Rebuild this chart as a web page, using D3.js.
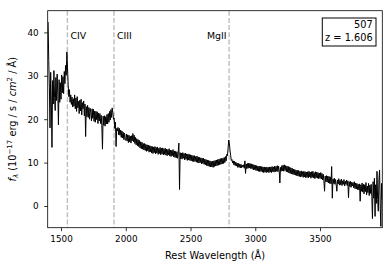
<!doctype html>
<html>
<head>
<meta charset="utf-8">
<script src="https://cdn.jsdelivr.net/npm/d3@7"></script>
<style>
  body { margin: 0; background: #fff; }
  text { font-family: "DejaVu Sans", sans-serif; }
</style>
</head>
<body>
<svg width="392" height="268"></svg>
<script>
// rest-frame wavelength grid of the spectrum (Angstrom)
var waveStart = 1400, waveStep = 5;

// flux, 1e-17 erg/s/cm2/A, one row = 100 A
var flux = [
  42.4,33.5,27.2,18.0,30.8,24.1,13.5,28.9,23.5,31.2,25.0,22.0,29.6,24.3,30.4,25.8,18.7,29.1,23.9,28.4, // 1400
  24.6,30.2,26.1,29.8,25.9,31.0,28.2,32.4,30.1,35.5,31.8,28.0,25.2,26.8,23.9,25.6,23.4,25.1,22.8,24.7, // 1500
  23.0,25.6,22.4,24.9,21.8,25.2,22.6,24.1,21.3,24.4,21.9,24.6,21.0,23.8,22.4,24.2,20.8,23.5,16.0,22.9, // 1600
  20.6,23.2,20.4,22.7,20.0,22.5,21.6,19.6,22.4,20.2,22.3,19.5,21.9,19.3,21.8,19.9,21.7,19.0,21.4,19.6, // 1700
  21.3,19.0,20.9,18.6,13.1,20.7,18.6,20.8,18.4,20.6,18.9,21.1,18.9,21.3,19.3,21.8,19.8,22.2,20.4,22.6, // 1800
  21.5,20.0,20.3,17.9,19.3,13.7,17.9,17.3,18.1,16.4,17.9,16.3,17.5,15.8,17.3,15.7,17.0,15.3,16.8,15.3, // 1900
  15.1,16.6,15.0,16.4,14.6,16.3,14.8,16.1,14.5,16.2,15.0,16.7,14.8,16.3,14.4,15.8,14.1,15.5,13.9,15.3, // 2000
  13.7,15.1,13.4,14.8,13.2,14.7,13.1,14.4,12.9,14.4,12.8,14.2,12.6,14.1,12.7,14.0,12.4,13.9,12.5,13.8, // 2100
  12.2,13.7,12.1,13.6,12.3,13.7,12.0,13.5,12.2,13.6,11.9,13.3,12.1,13.5,11.8,13.3,12.0,13.4,11.8,13.2, // 2200
  11.9,13.3,11.7,13.1,11.6,13.0,11.8,13.2,11.5,12.9,11.4,12.8,11.6,13.0,11.3,12.7,11.2,12.6,11.1,12.5, // 2300
  11.0,12.4,14.5, 3.8,12.3,10.9,12.2,10.8,12.3,11.0,12.1,10.6,12.2,10.8,12.0,10.5,12.0,10.6,11.9,10.5, // 2400
  11.8,10.4,11.7,10.3,11.6,10.2,11.6,10.3,11.4,10.1,11.5,10.0,11.3, 9.9,11.2,10.0,11.1, 9.7,11.0, 9.8, // 2500
  11.0, 9.6,10.8, 9.5,10.7, 9.3,10.6, 9.2,10.5, 9.1,10.4, 9.0,10.3, 9.0,10.3, 8.9,10.4, 9.1,10.5, 9.2, // 2600
  10.6, 9.3,10.7, 9.4,10.8, 9.5,10.9, 9.6,11.0, 9.7,11.0, 9.8,11.2,10.0,11.4,10.4,11.9,11.6,13.3,15.2, // 2700
  14.4,12.8,11.6,10.5,10.7, 9.9,10.4, 9.5,10.3, 9.3,10.1, 9.2, 9.9, 8.9, 9.8, 8.9, 9.7, 8.8, 9.6, 8.8, // 2800
   9.4, 9.0, 9.5, 8.7,10.4, 7.5, 9.7, 8.6, 9.8, 8.7, 9.9, 8.8, 9.8, 8.6, 9.7, 8.6, 9.6, 8.3, 9.5, 8.4, // 2900
   9.4, 8.2, 9.3, 8.1, 9.2, 8.0, 9.2, 7.9, 9.1, 8.0, 9.1, 7.8, 9.0, 7.7, 9.0, 7.8, 8.9, 7.7, 9.0, 7.8, // 3000
   8.9, 7.7, 9.0, 7.8, 9.0, 7.7, 9.1, 7.9, 9.0, 7.8, 9.2, 7.9, 9.1, 8.0, 9.3, 7.9, 9.2, 8.1, 5.3, 8.9, // 3100
   8.0, 9.3, 8.1, 9.4, 8.0, 9.5, 8.2, 9.3, 7.9, 9.2, 7.8, 9.1, 7.6, 9.0, 7.5, 8.8, 7.4, 8.7, 7.3, 8.5, // 3200
   7.2, 8.4, 7.1, 8.3, 7.0, 8.2, 6.9, 8.2, 6.8, 8.0, 6.7, 8.1, 6.8, 7.9, 6.6, 8.0, 6.7, 7.9, 6.5, 7.8, // 3300
   6.6, 7.9, 6.5, 8.0, 6.7, 7.8, 6.4, 7.9, 6.6, 8.0, 6.5, 7.7, 6.3, 7.9, 6.5, 7.8, 6.4, 7.7, 6.3, 7.6, // 3400
   6.4, 7.7, 6.2, 7.5, 6.0, 7.3, 5.8, 3.4, 6.9, 5.6, 7.0, 5.5, 6.9, 5.3, 6.8, 5.2, 6.7, 5.1, 9.1, 1.8, // 3500
   6.2, 5.2, 6.4, 5.0, 6.1, 4.9, 3.4, 6.0, 5.1, 6.3, 4.8, 5.9, 4.9, 6.2, 4.7, 5.8, 5.0, 6.1, 4.6, 5.7, // 3600
   5.0, 6.0, 4.7, 5.8, 1.9, 5.6, 4.5, 5.7, 4.3, 5.5, 4.6, 5.4, 4.2, 5.6, 4.0, 5.3, 3.9, 5.2, 3.8, 5.0, // 3700
   3.7, 5.1, 1.1, 4.9, 3.4, 5.3, 3.2, 5.0, 2.8, 4.9, 3.3, 5.4, 2.6, 4.6, 3.1, 5.2, 2.4, 4.8, 2.9, 5.0, // 3800
   2.2,-2.9, 5.6, 1.8, 6.4,-2.4, 4.9, 0.6, 8.0, 1.5,-1.2, 6.1, 8.3,-0.5,-4.7, 5.2, 1.4                 // 3900
];

var lineNames = ["CIV", "CIII", "MgII"];
var lineWaves = [1549, 1909, 2798];
var xTicks = [1500, 2000, 2500, 3000, 3500];
var yTicks = [0, 10, 20, 30, 40];
var boxLines = ["507", "z = 1.606"];

var svg = d3.select("svg"),
    pL = 47.7, pR = 382.3, pT = 10.7, pB = 227.7;

var x = d3.scaleLinear().domain([1397, 3981]).range([pL, pR]),
    y = d3.scaleLinear().domain([-5, 45]).range([pB, pT]);

var spec = flux.map(function(f, i) { return { w: waveStart + i * waveStep, f: f }; });

svg.append("clipPath").attr("id", "plot")
  .append("rect").attr("x", pL).attr("y", pT)
  .attr("width", pR - pL).attr("height", pB - pT);

// emission line markers
svg.selectAll(".eline")
  .data(lineWaves)
  .enter().append("line")
  .attr("x1", function(d) { return x(d); })
  .attr("x2", function(d) { return x(d); })
  .attr("y1", pT).attr("y2", pB)
  .attr("stroke", "#bdbdbd")
  .attr("stroke-width", 1.4)
  .attr("stroke-dasharray", "5,2.2");

svg.append("path")
  .datum(spec)
  .attr("clip-path", "url(#plot)")
  .attr("fill", "none")
  .attr("stroke", "#000")
  .attr("stroke-width", 1)
  .attr("stroke-linejoin", "bevel")
  .attr("d", d3.line().x(function(d) { return x(d.w); }).y(function(d) { return y(d.f); }));

svg.selectAll(".elabel")
  .data(lineNames)
  .enter().append("text")
  .attr("x", function(d, i) { return x(lineWaves[i]) + (i == 2 ? -2.5 : 3); })
  .attr("y", y(38.5))
  .attr("text-anchor", function(d, i) { return i == 2 ? "end" : "start"; })
  .attr("font-size", "9.4px")
  .text(function(d) { return d; });

// axes
var gx = svg.append("g")
  .attr("transform", "translate(0," + pB + ")")
  .call(d3.axisBottom(x).tickValues(xTicks).tickFormat(d3.format("d")).tickSize(3.5).tickPadding(4.5));
var gy = svg.append("g")
  .attr("transform", "translate(" + pL + ",0)")
  .call(d3.axisLeft(y).tickValues(yTicks).tickFormat(d3.format("d")).tickSize(3.5).tickPadding(5.5));
[gx, gy].forEach(function(g) {
  g.select(".domain").remove();
  g.selectAll("line").attr("stroke", "#000").attr("stroke-width", 0.8);
  g.selectAll("text").attr("font-family", "DejaVu Sans").attr("font-size", "8.8px").attr("fill", "#000");
});

svg.append("rect")
  .attr("x", pL).attr("y", pT)
  .attr("width", pR - pL).attr("height", pB - pT)
  .attr("fill", "none").attr("stroke", "#000").attr("stroke-width", 0.8);

svg.append("text")
  .attr("x", (pL + pR) / 2).attr("y", 259)
  .attr("text-anchor", "middle")
  .attr("font-size", "9.8px")
  .text("Rest Wavelength (Å)");

var yl = svg.append("text")
  .attr("transform", "translate(16," + ((pT + pB) / 2) + ") rotate(-90)")
  .attr("text-anchor", "middle")
  .attr("font-size", "9.8px");
yl.append("tspan").attr("font-style", "italic").text("f");
yl.append("tspan").attr("font-style", "italic").attr("font-size", "7px").attr("dy", 2).text("λ");
yl.append("tspan").attr("dy", -2).text(" (10");
yl.append("tspan").attr("font-size", "7px").attr("dy", -4).text("−17");
yl.append("tspan").attr("dy", 4).text(" erg / s / ");
yl.append("tspan").attr("font-style", "italic").text("cm");
yl.append("tspan").attr("font-size", "7px").attr("dy", -4).text("2");
yl.append("tspan").attr("dy", 4).text(" / Å)");

// id / redshift box
svg.append("rect")
  .attr("x", 322.3).attr("y", 18)
  .attr("width", 53.7).attr("height", 28)
  .attr("fill", "#fff").attr("stroke", "#000").attr("stroke-width", 1);
svg.selectAll(".boxtxt")
  .data(boxLines)
  .enter().append("text")
  .attr("x", 372.7)
  .attr("y", function(d, i) { return 28.3 + i * 12.4; })
  .attr("text-anchor", "end")
  .attr("font-size", "9.8px")
  .text(function(d) { return d; });
</script>
</body>
</html>
